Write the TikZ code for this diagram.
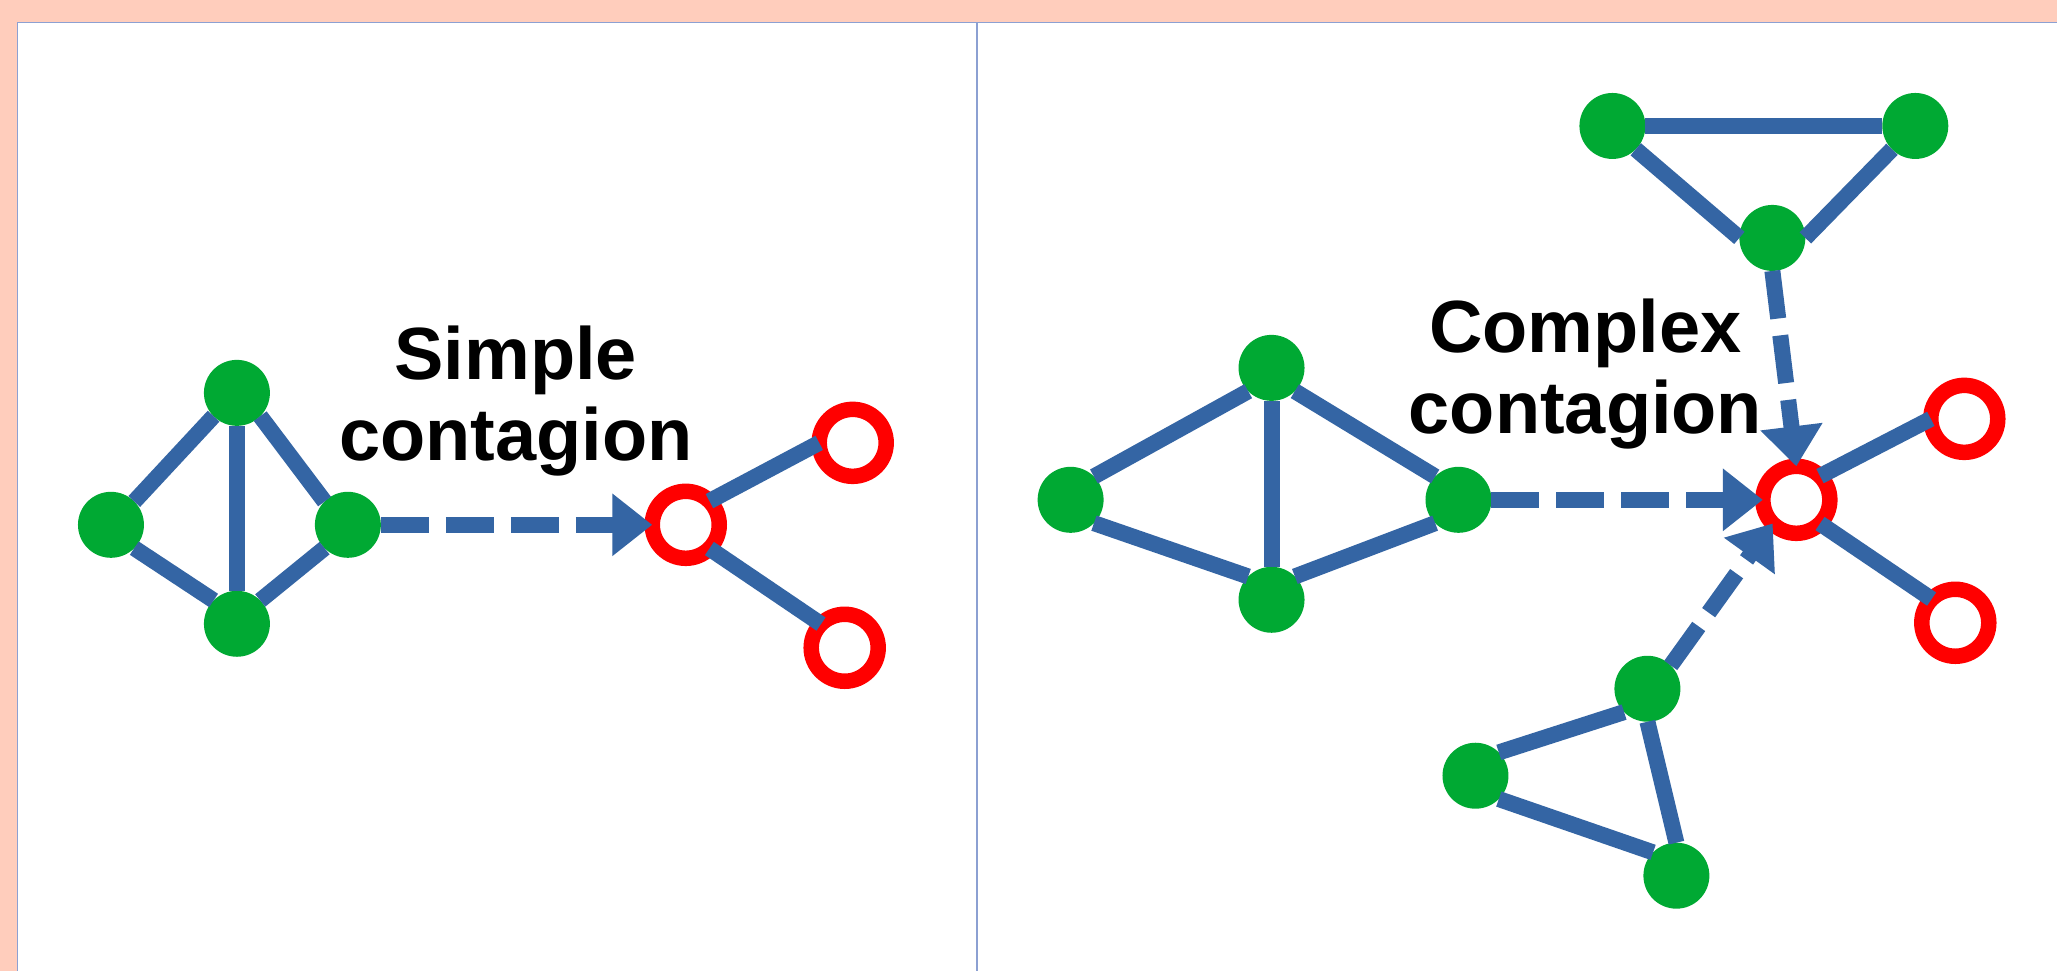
\documentclass[tikz,border=0pt]{standalone}
\usepackage{fontspec}
\setmainfont{Liberation Sans}
\usetikzlibrary{arrows.meta}
\definecolor{bgsalmon}{RGB}{255,205,188}
\definecolor{edgeblue}{RGB}{52,101,164}
\definecolor{nodegreen}{RGB}{0,169,51}
\definecolor{framecol}{RGB}{140,160,210}
\begin{document}
\begin{tikzpicture}[x=1pt,y=-1pt,
  infected/.style={circle,fill=nodegreen,minimum size=66pt,inner sep=0pt,outer sep=0pt},
  target/.style={circle,draw=red,line width=15.5pt,fill=white,minimum size=67pt,inner sep=0pt,outer sep=0pt},
  link/.style={draw=edgeblue,line width=16pt},
  spread/.style={draw=edgeblue,line width=16pt,dash pattern=on 48pt off 17pt,-{Triangle[length=40pt,width=60pt]}},
  titletext/.style={font=\fontsize{74pt}{81pt}\selectfont\bfseries,align=center,anchor=base,inner sep=0pt}
]
% background and panels
\fill[bgsalmon] (0,0) rectangle (2058,971);
\fill[white] (17,22) rectangle (2058,971);
\draw[framecol,line width=1.5pt] (17.5,971) -- (17.5,22.5) -- (2058,22.5);
\draw[framecol,line width=1.5pt] (977.5,22.5) -- (977.5,971);
\useasboundingbox (0,0) rectangle (2058,971);

% ---- left panel: simple contagion ----
\node[infected] (sa) at (237,393) {};
\node[infected] (sb) at (111,525) {};
\node[infected] (sc) at (237,624) {};
\node[infected] (sd) at (348,525) {};
\node[target] (sr) at (686,525) {};
\node[target] (sr1) at (853,443) {};
\node[target] (sr2) at (845,648) {};

\draw[link] (sa.225) -- (sb.45);
\draw[link] (sa.270) -- (sc.90);
\draw[link] (sa.-45) -- (sd.135);
\draw[link] (sb.-45) -- (sc.135);
\draw[link] (sc.45) -- (sd.225);
\draw[link] (sr.45) -- (sr1.180);
\draw[link] (sr.-45) -- (sr2.135);
\draw[spread] (sd.0) -- (sr.180);

\node[titletext] (simpletxt) at (516,461) {Simple\\contagion};

% ---- right panel: complex contagion ----
\node[infected] (ta) at (1613,126) {};
\node[infected] (tb) at (1916,126) {};
\node[infected] (tc) at (1773,238) {};

\node[infected] (la) at (1272,368) {};
\node[infected] (lb) at (1071,500) {};
\node[infected] (lc) at (1272,600) {};
\node[infected] (ld) at (1459,500) {};

\node[infected] (ba) at (1648,689) {};
\node[infected] (bb) at (1476,776) {};
\node[infected] (bc) at (1677,876) {};

\node[target] (cr) at (1797,500) {};
\node[target] (cr1) at (1965,419) {};
\node[target] (cr2) at (1956,623) {};

\draw[link] (ta.0) -- (tb.180);
\draw[link] (ta.-45) -- (tc.180);
\draw[link] (tb.225) -- (tc.0);
\draw[link] (la.225) -- (lb.45);
\draw[link] (la.270) -- (lc.90);
\draw[link] (la.-45) -- (ld.135);
\draw[link] (lb.-45) -- (lc.135);
\draw[link] (lc.45) -- (ld.225);
\draw[link] (ba.225) -- (bb.45);
\draw[link] (ba.270) -- (bc.90);
\draw[link] (bb.-45) -- (bc.135);
\draw[link] (cr.45) -- (cr1.180);
\draw[link] (cr.-45) -- (cr2.135);
\draw[spread] (tc.270) -- (cr.90);
\draw[spread] (ld.0) -- (cr.180);
\draw[spread] (ba.45) -- (cr.225);

\node[titletext] (complextxt) at (1586,434) {Complex\\contagion};
\end{tikzpicture}
\end{document}
